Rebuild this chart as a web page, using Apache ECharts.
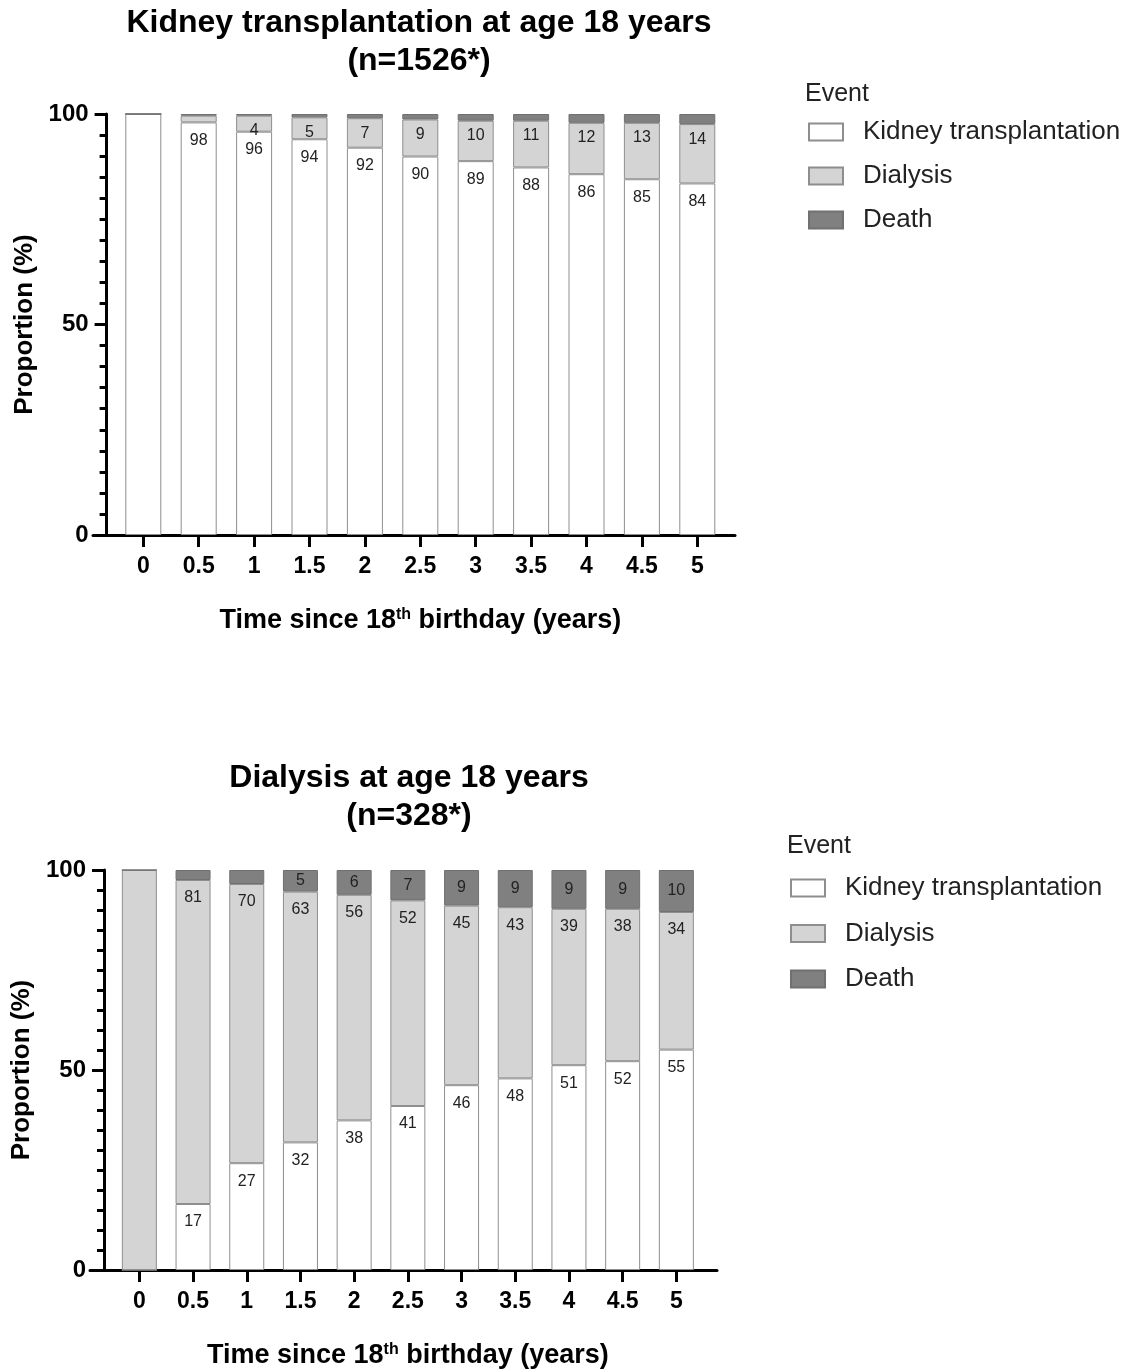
<!DOCTYPE html>
<html>
<head>
<meta charset="utf-8">
<script src="https://cdn.jsdelivr.net/npm/echarts@6/dist/echarts.min.js"></script>
<style>
html,body{margin:0;padding:0;background:#fff;}
#chart{width:1131px;height:1372px;}
</style>
</head>
<body>
<div id="chart"></div>
<script>
// ---- Data ----
const categories = ['0', '0.5', '1', '1.5', '2', '2.5', '3', '3.5', '4', '4.5', '5'];

// Chart 1: Kidney transplantation at age 18 years (n=1526*)
const ktTransplant = [100, 98, 95.8, 94, 92, 89.9, 88.8, 87.3, 85.7, 84.5, 83.5];
const ktDialysis   = [0, 1.6, 3.8, 5.2, 7, 8.8, 9.6, 11.1, 12.2, 13.4, 14.1];
const ktDeath      = [0, 0.4, 0.4, 0.8, 1, 1.3, 1.6, 1.6, 2.1, 2.1, 2.4];
const ktTransplantLabels = [null, 98, 96, 94, 92, 90, 89, 88, 86, 85, 84];
const ktDialysisLabels   = [null, null, 4, 5, 7, 9, 10, 11, 12, 13, 14];
const ktDeathLabels      = [null, null, null, null, null, null, null, null, null, null, null];

// Chart 2: Dialysis at age 18 years (n=328*)
const dTransplant = [0, 16.5, 26.7, 31.9, 37.4, 41, 46.2, 47.9, 51.2, 52.2, 55.1];
const dDialysis   = [100, 81, 69.8, 62.7, 56.4, 51.4, 44.9, 42.8, 39.1, 38.1, 34.4];
const dDeath      = [0, 2.5, 3.5, 5.4, 6.2, 7.6, 8.9, 9.3, 9.7, 9.7, 10.5];
const dTransplantLabels = [null, 17, 27, 32, 38, 41, 46, 48, 51, 52, 55];
const dDialysisLabels   = [null, 81, 70, 63, 56, 52, 45, 43, 39, 38, 34];
const dDeathLabels      = [null, null, null, 5, 6, 7, 9, 9, 9, 9, 10];

const titles = ['Kidney transplantation at age 18 years\n(n=1526*)', 'Dialysis at age 18 years\n(n=328*)'];
const seriesNames = ['Kidney transplantation', 'Dialysis', 'Death'];

// ---- Styles ----
const FONT = 'Liberation Sans, Arial, Helvetica, sans-serif';
const colors = {
  'Kidney transplantation': { color: '#ffffff', borderColor: '#8e8e8e' },
  'Dialysis': { color: '#d4d4d4', borderColor: '#8e8e8e' },
  'Death': { color: '#808080', borderColor: '#707070' }
};

function labelFn(arr) {
  return function (p) {
    const v = arr[p.dataIndex];
    return v === null || v === undefined ? '' : String(v);
  };
}

function makeSeries(name, data, labels, axisIdx, barWidth, pos, dist) {
  return {
    type: 'bar',
    name: name,
    stack: 'stack' + axisIdx,
    xAxisIndex: axisIdx,
    yAxisIndex: axisIdx,
    barWidth: barWidth,
    data: data,
    itemStyle: { color: colors[name].color, borderColor: colors[name].borderColor, borderWidth: 1 },
    label: {
      show: true,
      position: pos,
      distance: dist,
      color: '#222',
      fontSize: 16,
      fontFamily: FONT,
      formatter: labelFn(labels)
    },
    emphasis: { disabled: true },
    animation: false
  };
}

function yAxisMain(gridIndex, offset) {
  return {
    type: 'value', gridIndex: gridIndex, min: 0, max: 100, interval: 50, offset: offset,
    axisLine: { show: true, lineStyle: { color: '#000', width: 3 } },
    axisTick: { show: true, length: 12, lineStyle: { color: '#000', width: 3 } },
    minorTick: { show: true, splitNumber: 10, length: 7, lineStyle: { color: '#000', width: 3 } },
    splitLine: { show: false },
    minorSplitLine: { show: false },
    axisLabel: { color: '#000', fontSize: 24, fontWeight: 'bold', fontFamily: FONT, margin: 18 },
    name: 'Proportion (%)',
    nameLocation: 'middle',
    nameGap: 68,
    nameTextStyle: { color: '#000', fontSize: 26, fontWeight: 'bold', fontFamily: FONT }
  };
}

function xAxisMain(gridIndex) {
  return {
    type: 'category', gridIndex: gridIndex, data: categories,
    axisLine: { show: false },
    axisTick: { show: true, alignWithLabel: true, length: 12, lineStyle: { color: '#000', width: 3 } },
    axisLabel: { color: '#000', fontSize: 23, fontWeight: 'bold', fontFamily: FONT, margin: 20, interval: 0 },
    name: '{a|Time since 18}{s|th}{a| birthday (years)}',
    nameLocation: 'middle',
    nameGap: 72,
    nameTextStyle: {
      color: '#000', fontFamily: FONT,
      rich: {
        a: { fontSize: 27, fontWeight: 'bold', color: '#000', fontFamily: FONT },
        s: { fontSize: 16, fontWeight: 'bold', color: '#000', fontFamily: FONT, verticalAlign: 'top' }
      }
    }
  };
}

function xAxisLine(gridIndex) {
  return {
    type: 'value', gridIndex: gridIndex, min: 0, max: 1,
    axisLine: { show: true, lineStyle: { color: '#000', width: 3 } },
    axisTick: { show: false }, axisLabel: { show: false }, splitLine: { show: false }
  };
}
function yAxisHidden(gridIndex) {
  return { type: 'value', gridIndex: gridIndex, min: 0, max: 100, show: false };
}

function legendAt(left, top, gap) {
  return {
    orient: 'vertical', left: left, top: top, padding: 0,
    itemWidth: 34, itemHeight: 17, itemGap: gap, icon: 'rect',
    data: seriesNames,
    selectedMode: false,
    formatter: function (name) { return '{g| }' + name; },
    textStyle: {
      color: '#222', fontSize: 26, fontFamily: FONT, lineHeight: 26,
      rich: { g: { width: 15 } }
    }
  };
}

const option = {
  backgroundColor: '#ffffff',
  animation: false,
  title: [
    { text: titles[0], left: 419, top: 4, textAlign: 'center', padding: 0,
      textStyle: { color: '#000', fontSize: 32, fontWeight: 'bold', fontFamily: FONT, lineHeight: 38 } },
    { text: 'Event', left: 805, top: 82, padding: 0,
      textStyle: { color: '#222', fontSize: 25, fontWeight: 'normal', fontFamily: FONT } },
    { text: titles[1], left: 409, top: 759, textAlign: 'center', padding: 0,
      textStyle: { color: '#000', fontSize: 32, fontWeight: 'bold', fontFamily: FONT, lineHeight: 38 } },
    { text: 'Event', left: 787, top: 834, padding: 0,
      textStyle: { color: '#222', fontSize: 25, fontWeight: 'normal', fontFamily: FONT } }
  ],
  legend: [legendAt(808, 119, 18), legendAt(790, 875, 19.5)],
  grid: [
    { left: 115.6, top: 114, width: 609.4, height: 421 },
    { left: 93, top: 114, width: 642, height: 421 },
    { left: 112.5, top: 870, width: 590.7, height: 400 },
    { left: 90, top: 870, width: 627, height: 400 }
  ],
  xAxis: [xAxisMain(0), xAxisLine(1), xAxisMain(2), xAxisLine(3)],
  yAxis: [yAxisMain(0, 9), yAxisHidden(1), yAxisMain(2, 8.5), yAxisHidden(3)],
  series: [
    makeSeries('Kidney transplantation', ktTransplant, ktTransplantLabels, 0, 36, 'insideTop', 10),
    makeSeries('Dialysis', ktDialysis, ktDialysisLabels, 0, 36, 'insideTop', 7),
    makeSeries('Death', ktDeath, ktDeathLabels, 0, 36, 'inside', 0),
    makeSeries('Kidney transplantation', dTransplant, dTransplantLabels, 2, 35, 'insideTop', 10),
    makeSeries('Dialysis', dDialysis, dDialysisLabels, 2, 35, 'insideTop', 10),
    makeSeries('Death', dDeath, dDeathLabels, 2, 35, 'inside', 0)
  ]
};

const chart = echarts.init(document.getElementById('chart'), null, { renderer: 'canvas' });
chart.setOption(option);
</script>
</body>
</html>
